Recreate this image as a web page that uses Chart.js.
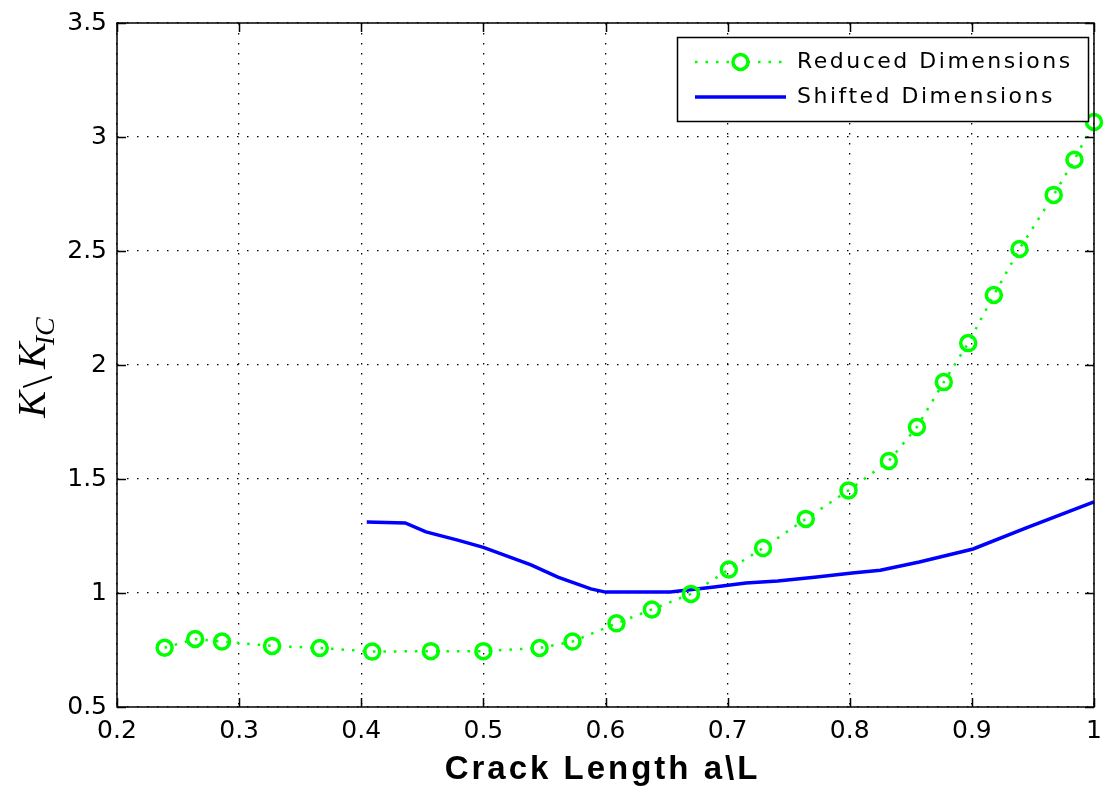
<!DOCTYPE html>
<html>
<head>
<meta charset="utf-8">
<title>Crack length vs K/KIC</title>
<script src="https://cdn.jsdelivr.net/npm/chart.js@4.4.0/dist/chart.umd.min.js"></script>
<style>
  html, body { margin: 0; padding: 0; background: #fff; }
  #wrap { width: 1105px; height: 793px; }
</style>
</head>
<body>
<div id="wrap"><canvas id="kChart" width="1105" height="793"></canvas></div>
<script>
// reduced dimensions, circles on dotted line
const reducedX = [0.239, 0.264, 0.286, 0.327, 0.366, 0.409, 0.457, 0.500, 0.546, 0.573,
                  0.609, 0.638, 0.670, 0.701, 0.729, 0.764, 0.799, 0.832, 0.855, 0.877,
                  0.897, 0.918, 0.939, 0.967, 0.984, 1.000];
const reducedY = [0.760, 0.798, 0.787, 0.768, 0.759, 0.743, 0.745, 0.745, 0.759, 0.787,
                  0.867, 0.928, 0.996, 1.103, 1.197, 1.325, 1.450, 1.579, 1.728, 1.925,
                  2.096, 2.307, 2.509, 2.746, 2.900, 3.066];

// shifted dimensions, solid line
const shiftedX = [0.4045, 0.436, 0.453, 0.479, 0.500, 0.539, 0.561, 0.588, 0.600, 0.653,
                  0.689, 0.715, 0.741, 0.773, 0.802, 0.825, 0.857, 0.901, 0.944, 1.000];
const shiftedY = [1.311, 1.307, 1.268, 1.232, 1.200, 1.123, 1.070, 1.018, 1.004, 1.004,
                  1.026, 1.044, 1.053, 1.070, 1.088, 1.100, 1.136, 1.193, 1.285, 1.400];

const seriesNames = ['Reduced Dimensions', 'Shifted Dimensions'];
const xTitle = 'Crack Length a\\L';

const GREEN = '#00ff00';
const BLUE = '#0000ff';

const pairs = (xs, ys) => xs.map((x, i) => ({ x, y: ys[i] }));
// "1" not "1.0", "0.3" not "0.30000000000000004"
const tickText = v => String(+Number(v).toFixed(2));

// matlab style: inward ticks on all four sides, solid box
const boxTicksPlugin = {
    id: 'boxTicks',
    afterDraw(chart) {
        const { ctx, chartArea: a, scales } = chart;
        const len = 9;
        ctx.save();
        ctx.strokeStyle = '#000';
        ctx.lineWidth = 1.5;
        ctx.strokeRect(a.left, a.top, a.right - a.left, a.bottom - a.top);
        ctx.beginPath();
        scales.x.ticks.forEach(t => {
            const px = Math.round(scales.x.getPixelForValue(t.value)) + 0.5;
            ctx.moveTo(px, a.bottom); ctx.lineTo(px, a.bottom - len);
            ctx.moveTo(px, a.top); ctx.lineTo(px, a.top + len);
        });
        scales.y.ticks.forEach(t => {
            const py = Math.round(scales.y.getPixelForValue(t.value)) + 0.5;
            ctx.moveTo(a.left, py); ctx.lineTo(a.left + len, py);
            ctx.moveTo(a.right, py); ctx.lineTo(a.right - len, py);
        });
        ctx.stroke();
        ctx.restore();
    }
};

// axis titles: bold x title and the K\K_IC label rotated on the left
const axisTitlesPlugin = {
    id: 'axisTitles',
    afterDraw(chart) {
        const { ctx, chartArea: a } = chart;
        ctx.save();
        ctx.fillStyle = '#000';
        ctx.font = 'bold 33px "Liberation Sans", Arial, sans-serif';
        ctx.letterSpacing = '3px';
        ctx.textAlign = 'center';
        ctx.textBaseline = 'alphabetic';
        ctx.fillText(xTitle, (a.left + a.right) / 2 - 3, 779);
        ctx.restore();

        ctx.save();
        ctx.fillStyle = '#000';
        ctx.translate(45, (a.top + a.bottom) / 2 + 1);
        ctx.rotate(-Math.PI / 2);
        ctx.textBaseline = 'alphabetic';
        ctx.textAlign = 'left';
        const big = 'italic 40px "Liberation Serif", "DejaVu Serif", serif';
        const up = '44px "Liberation Serif", "DejaVu Serif", serif';
        const sub = 'italic 28px "Liberation Serif", "DejaVu Serif", serif';
        ctx.font = big; const wK = ctx.measureText('K').width;
        ctx.font = up; const wB = ctx.measureText('\\').width;
        ctx.font = sub; const wS = ctx.measureText('IC').width;
        const total = wK * 2 + wB + 10 + wS;
        let x = -total / 2;
        ctx.font = big; ctx.fillText('K', x, 0); x += wK + 3;
        ctx.font = up; ctx.fillText('\\', x, 7); x += wB + 7;
        ctx.font = big; ctx.fillText('K', x, 0); x += wK - 3;
        ctx.font = sub; ctx.fillText('IC', x, 9);
        ctx.restore();
    }
};

// boxed legend in the upper right corner
const boxLegendPlugin = {
    id: 'boxLegend',
    afterDraw(chart) {
        const { ctx } = chart;
        const bx = 677, by = 37, bw = 411, bh = 84;
        ctx.save();
        ctx.fillStyle = '#fff';
        ctx.fillRect(bx, by, bw, bh);
        ctx.strokeStyle = '#000';
        ctx.lineWidth = 1.5;
        ctx.strokeRect(bx + 0.5, by + 0.5, bw, bh);

        const rows = [62, 97];
        const x0 = 695, x1 = 786;
        chart.data.datasets.forEach((ds, i) => {
            const y = rows[i];
            ctx.save();
            ctx.strokeStyle = ds.borderColor;
            ctx.lineWidth = ds.borderWidth;
            ctx.setLineDash(ds.borderDash || []);
            ctx.beginPath();
            ctx.moveTo(x0, y); ctx.lineTo(x1, y);
            ctx.stroke();
            if (ds.pointRadius > 0) {
                ctx.setLineDash([]);
                ctx.fillStyle = '#fff';
                ctx.lineWidth = ds.pointBorderWidth;
                ctx.beginPath();
                ctx.arc((x0 + x1) / 2, y, ds.pointRadius, 0, Math.PI * 2);
                ctx.fill();
                ctx.stroke();
            }
            ctx.restore();
            ctx.fillStyle = '#000';
            ctx.font = '22px "DejaVu Sans", sans-serif';
            ctx.letterSpacing = '2.5px';
            ctx.textBaseline = 'middle';
            ctx.fillText(ds.label, 797, y);
        });
        ctx.restore();
    }
};

new Chart(document.getElementById('kChart'), {
    type: 'line',
    data: {
        datasets: [
            {
                label: seriesNames[0],
                data: pairs(reducedX, reducedY),
                borderColor: GREEN,
                borderWidth: 2.5,
                borderDash: [2.5, 8],
                pointRadius: 7.5,
                pointBorderWidth: 3.5,
                pointBackgroundColor: 'rgba(0,0,0,0)',
                pointBorderColor: GREEN,
                tension: 0
            },
            {
                label: seriesNames[1],
                data: pairs(shiftedX, shiftedY),
                borderColor: BLUE,
                borderWidth: 3.5,
                pointRadius: 0,
                tension: 0
            }
        ]
    },
    options: {
        responsive: false,
        animation: false,
        clip: false,
        layout: { padding: { top: 23, right: 6, left: 0, bottom: 0 } },
        plugins: {
            legend: { display: false },
            tooltip: { enabled: false }
        },
        scales: {
            x: {
                type: 'linear',
                min: 0.2,
                max: 1,
                ticks: {
                    stepSize: 0.1,
                    color: '#000',
                    padding: 9,
                    maxRotation: 0,
                    autoSkip: false,
                    font: { family: '"DejaVu Sans", sans-serif', size: 25 },
                    callback: tickText
                },
                grid: { color: '#000', lineWidth: 1.3, drawTicks: false },
                border: { display: false, dash: [1.5, 8.5] },
                afterFit(scale) {
                    scale.height = 86;
                    scale.paddingLeft = 0;
                    scale.paddingRight = 0;
                }
            },
            y: {
                type: 'linear',
                min: 0.5,
                max: 3.5,
                ticks: {
                    stepSize: 0.5,
                    color: '#000',
                    padding: 10,
                    font: { family: '"DejaVu Sans", sans-serif', size: 25 },
                    callback: tickText
                },
                grid: { color: '#000', lineWidth: 1.3, drawTicks: false },
                border: { display: false, dash: [1.5, 8.5] },
                afterFit(scale) {
                    scale.width = 117;
                    scale.paddingTop = 0;
                    scale.paddingBottom = 0;
                }
            }
        }
    },
    plugins: [boxTicksPlugin, axisTitlesPlugin, boxLegendPlugin]
});
</script>
</body>
</html>
